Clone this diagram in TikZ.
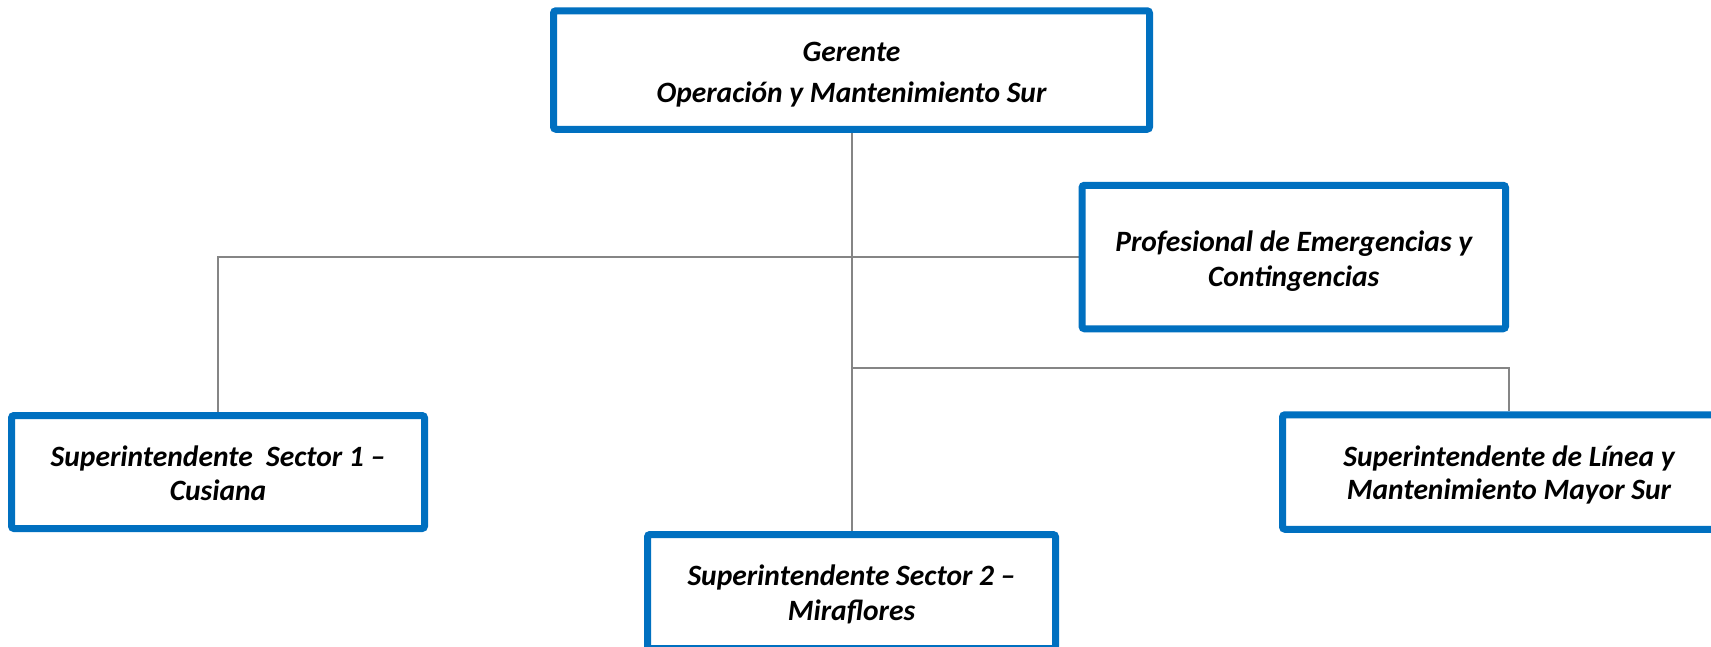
\documentclass[tikz,border=0pt]{standalone}
\usepackage{fontspec}
\setmainfont{Carlito}
\definecolor{boxblue}{HTML}{0070C0}
\definecolor{linegray}{HTML}{858585}
\pgfdeclarelayer{bg}
\pgfsetlayers{bg,main}
\begin{document}
\begin{tikzpicture}[x=1pt,y=-1pt,
  orgbox/.style={draw=boxblue, line width=7pt, fill=white, rounded corners=2.5pt,
    inner sep=0pt},
  lbl/.style={inner sep=0pt, align=center, font=\fontsize{29.5}{#1}\selectfont\bfseries\itshape},
  conn/.style={draw=linegray, line width=2pt}]
\useasboundingbox (0,0) rectangle (1711,646);
\clip (0,0) rectangle (1711,646);
% boxes
\node[orgbox, minimum width=596pt, minimum height=118.5pt] (top) at (851.5,70) {};
\node[orgbox, minimum width=423.5pt, minimum height=143.5pt] (prof) at (1293.75,257) {};
\node[orgbox, minimum width=413pt, minimum height=113pt] (cus) at (218,472) {};
\node[orgbox, minimum width=408pt, minimum height=114pt] (mir) at (851.5,591.5) {};
\node[orgbox, minimum width=453pt, minimum height=114.5pt] (may) at (1509,472) {};
% texts
\node[lbl=41, yshift=-4.5pt] (toptxt) at (top.center)
  {Gerente\\Operación y Mantenimiento Sur};
\node[lbl=35, yshift=-4pt] (proftxt) at (prof.center)
  {Profesional de Emergencias y\\Contingencias};
\node[lbl=34, yshift=-1pt] (custxt) at (cus.center)
  {Superintendente\ \ Sector 1 –\\Cusiana};
\node[lbl=35, yshift=-3pt] (mirtxt) at (mir.center)
  {Superintendente Sector 2 –\\Miraflores};
\node[lbl=33, yshift=-3pt] (maytxt) at (may.center)
  {Superintendente de Línea y\\Mantenimiento Mayor Sur};
\coordinate (j2) at (851,368);
% connectors behind the boxes
\begin{pgfonlayer}{bg}
\fill[white] (0,0) rectangle (1711,646);
\draw[conn] (top.south) -- (mir.north);
\draw[conn] (cus.north) |- (prof.west);
\draw[conn] (j2) -| (may.north);
\end{pgfonlayer}
\end{tikzpicture}
\end{document}
